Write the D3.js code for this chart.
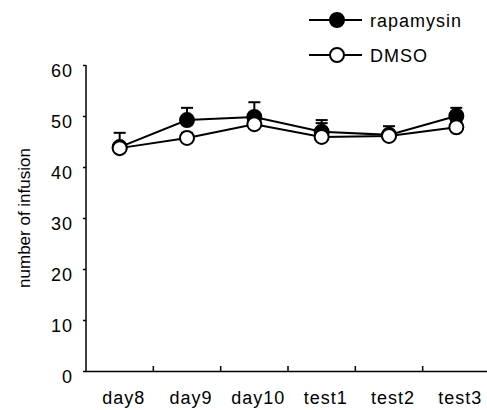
<!DOCTYPE html>
<html>
<head>
<meta charset="utf-8">
<script src="https://cdn.jsdelivr.net/npm/d3@7"></script>
<style>
  body { margin: 0; background: #fff; }
  svg text { font-family: "Liberation Sans", Arial, sans-serif; fill: #000; }
</style>
</head>
<body>
<svg id="chart" width="487" height="410"></svg>
<script>
const categories = ["day8", "day9", "day10", "test1", "test2", "test3"];
const rapamysin = [43.9, 49.2, 49.8, 46.9, 46.3, 50.0];
const rapamysinErr = [2.8, 2.4, 2.9, 2.3, 1.7, 1.6];
const dmso = [43.7, 45.7, 48.4, 45.9, 46.1, 47.8];
const dmsoErr = [1.0, 1.0, 1.2, 2.7, 1.0, 1.0];
const yTicks = [0, 10, 20, 30, 40, 50, 60];

const svg = d3.select("#chart");

const x = d3.scaleBand().domain(categories).range([86, 490]);
const y = d3.scaleLinear().domain([0, 60]).range([371, 65]);
const cx = d => x(d) + x.bandwidth() / 2;

// y axis
const yAxis = svg.append("g")
    .attr("transform", "translate(86,0)")
    .call(d3.axisLeft(y).tickValues(yTicks).tickSize(3).tickPadding(10));
yAxis.select(".domain").attr("stroke", "#000").attr("stroke-width", 1.5).attr("d", "M0,65V371");
yAxis.selectAll(".tick line").attr("stroke", "#000").attr("stroke-width", 1.5);
yAxis.selectAll(".tick text")
    .attr("font-size", 18)
    .attr("dy", "0.62em")
    .attr("letter-spacing", 1)
    .style("font-family", '"Liberation Sans", Arial, sans-serif');

// x axis line, ticks between categories
svg.append("line")
    .attr("x1", 86).attr("x2", 487)
    .attr("y1", 371.5).attr("y2", 371.5)
    .attr("stroke", "#000").attr("stroke-width", 1.5);

svg.selectAll(".xtick")
    .data(categories.slice(1))
    .join("line")
    .attr("class", "xtick")
    .attr("x1", d => x(d)).attr("x2", d => x(d))
    .attr("y1", 371).attr("y2", 366)
    .attr("stroke", "#000").attr("stroke-width", 1.5);

svg.selectAll(".xlabel")
    .data(categories)
    .join("text")
    .attr("class", "xlabel")
    .attr("x", d => cx(d) + 4)
    .attr("y", 404)
    .attr("text-anchor", "middle")
    .attr("font-size", 18)
    .attr("letter-spacing", 1)
    .text(d => d);

// y axis title
svg.append("text")
    .attr("transform", "translate(30,218) rotate(-90)")
    .attr("text-anchor", "middle")
    .attr("font-size", 17)
    .text("number of infusion");

const line = d3.line().x((d, i) => cx(categories[i])).y(d => y(d));

function drawSeries(values, errs) {
    const g = svg.append("g");
    g.selectAll(".err")
        .data(values)
        .join("line")
        .attr("x1", (d, i) => cx(categories[i]))
        .attr("x2", (d, i) => cx(categories[i]))
        .attr("y1", d => y(d))
        .attr("y2", (d, i) => y(d + errs[i]))
        .attr("stroke", "#000").attr("stroke-width", 2);
    g.selectAll(".cap")
        .data(values)
        .join("line")
        .attr("x1", (d, i) => cx(categories[i]) - 6)
        .attr("x2", (d, i) => cx(categories[i]) + 6)
        .attr("y1", (d, i) => y(d + errs[i]))
        .attr("y2", (d, i) => y(d + errs[i]))
        .attr("stroke", "#000").attr("stroke-width", 2);
    g.append("path")
        .datum(values)
        .attr("d", line)
        .attr("fill", "none")
        .attr("stroke", "#000").attr("stroke-width", 2);
    return g;
}

function drawMarkers(g, values, fill) {
    g.selectAll(".pt")
        .data(values)
        .join("circle")
        .attr("cx", (d, i) => cx(categories[i]))
        .attr("cy", d => y(d))
        .attr("r", 7)
        .attr("fill", fill)
        .attr("stroke", "#000").attr("stroke-width", 2);
}

const gR = drawSeries(rapamysin, rapamysinErr);
const gD = drawSeries(dmso, dmsoErr);
drawMarkers(gR, rapamysin, "#000");
drawMarkers(gD, dmso, "#fff");

// legend
const legend = [
    { name: "rapamysin", fill: "#000", y: 20 },
    { name: "DMSO", fill: "#fff", y: 55 }
];
const lg = svg.selectAll(".legend")
    .data(legend)
    .join("g")
    .attr("class", "legend")
    .attr("transform", d => "translate(0," + d.y + ")");
lg.append("line")
    .attr("x1", 309).attr("x2", 362)
    .attr("stroke", "#000").attr("stroke-width", 2);
lg.append("circle")
    .attr("cx", 337).attr("r", 7)
    .attr("fill", d => d.fill)
    .attr("stroke", "#000").attr("stroke-width", 2);
lg.append("text")
    .attr("x", 370).attr("y", 7)
    .attr("font-size", 18)
    .attr("letter-spacing", 1)
    .text(d => d.name);
</script>
</body>
</html>
